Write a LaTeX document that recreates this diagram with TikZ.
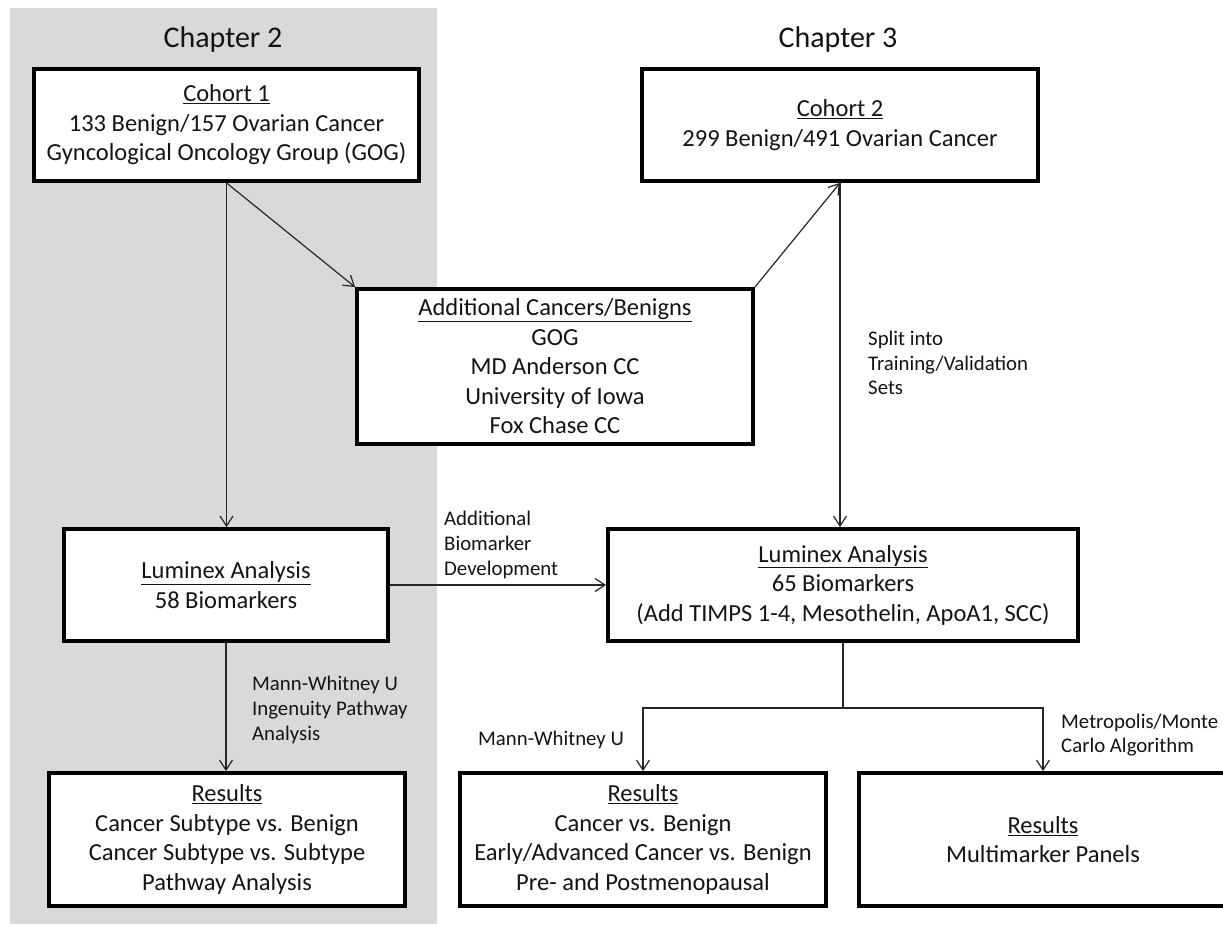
\documentclass[tikz,border=0pt]{standalone}
\usepackage{fontspec}
\setmainfont{Carlito}
\usetikzlibrary{arrows.meta}
\definecolor{bggray}{HTML}{D9D9D9}
\definecolor{txt}{HTML}{141414}
\newcommand{\padr}{\rule{22pt}{0pt}}
\begin{document}
\begin{tikzpicture}[x=1pt,y=-1pt,
  box/.style={draw=black, line width=3.8pt, fill=white, inner sep=0pt, align=center, text=txt, font=\fontsize{24.5}{29.5}\selectfont},
  conn/.style={draw=black!85, line width=1.2pt},
  arr/.style={conn, -{Straight Barb[length=10pt,width=13pt]}},
  lbl/.style={anchor=west, align=left, inner sep=0pt, text=txt, font=\fontsize{20.8}{24.7}\selectfont},
  chap/.style={anchor=base, inner sep=0pt, text=txt, font=\fontsize{30}{36}\selectfont}]
\useasboundingbox (0,0) rectangle (1223,924);
\fill[white] (0,0) rectangle (1223,924);
\fill[bggray] (10,8) rectangle (437,924);

\node[chap] (ch2) at (223,47) {Chapter 2};
\node[chap] (ch3) at (838,47) {Chapter 3};

\node[box, minimum width=385pt, minimum height=112pt] (c1) at (226.5,125)
  {\underline{Cohort 1}\\133 Benign/157 Ovarian Cancer\\Gyncological Oncology Group (GOG)};
\node[box, minimum width=396pt, minimum height=112pt] (c2) at (840,125)
  {\underline{Cohort 2}\\299 Benign/491 Ovarian Cancer};
\node[box, minimum width=396pt, minimum height=155pt] (add) at (555,366.5)
  {\underline{Additional Cancers/Benigns}\\GOG\\MD Anderson CC\\University of Iowa\\Fox Chase CC};
\node[box, minimum width=324pt, minimum height=112pt] (lum1) at (226,585)
  {\underline{Luminex Analysis}\\58 Biomarkers};
\node[box, minimum width=470pt, minimum height=112pt] (lum2) at (843,585)
  {\underline{Luminex Analysis}\\65 Biomarkers\\(Add TIMPS 1-4, Mesothelin, ApoA1, SCC)};
\node[box, minimum width=356pt, minimum height=133pt] (res1) at (227,839.5)
  {\underline{Results}\\Cancer Subtype vs. Benign\\Cancer Subtype vs. Subtype\\Pathway Analysis};
\node[box, minimum width=366pt, minimum height=133pt] (res2) at (643,839.5)
  {\underline{Results}\\Cancer vs. Benign\\Early/Advanced Cancer vs. Benign\\Pre- and Postmenopausal};
\node[box, minimum width=390pt, minimum height=133pt] (res3) at (1054,839.5)
  {\underline{Results}\padr\\Multimarker Panels\padr};

\coordinate (sp) at (843,708);
\coordinate (t3) at (1043,771);
\draw[arr] (c1.south) -- (c1.south |- lum1.north);
\draw[arr] (c1.south) -- (add.north west);
\draw[arr] (add.north east) -- (c2.south);
\draw[arr] (c2.south) -- (c2.south |- lum2.north);
\draw[arr] (lum1.east) -- (lum2.west);
\draw[arr] (lum1.south) -- (lum1.south |- res1.north);
\draw[conn] (lum2.south) -- (sp);
\draw[arr] (sp) -| (res2.north);
\draw[arr] (sp) -| (t3 |- res3.north);

\node[lbl] (l1) at (444,545) {Additional\\Biomarker\\Development};
\node[lbl] (l2) at (868,363) {Split into\\Training/Validation\\Sets};
\node[lbl] (l3) at (252,710) {Mann-Whitney U\\Ingenuity Pathway\\Analysis};
\node[lbl] (l4) at (478,740) {Mann-Whitney U};
\node[lbl] (l5) at (1061,735) {Metropolis/Monte\\Carlo Algorithm};
\end{tikzpicture}
\end{document}
